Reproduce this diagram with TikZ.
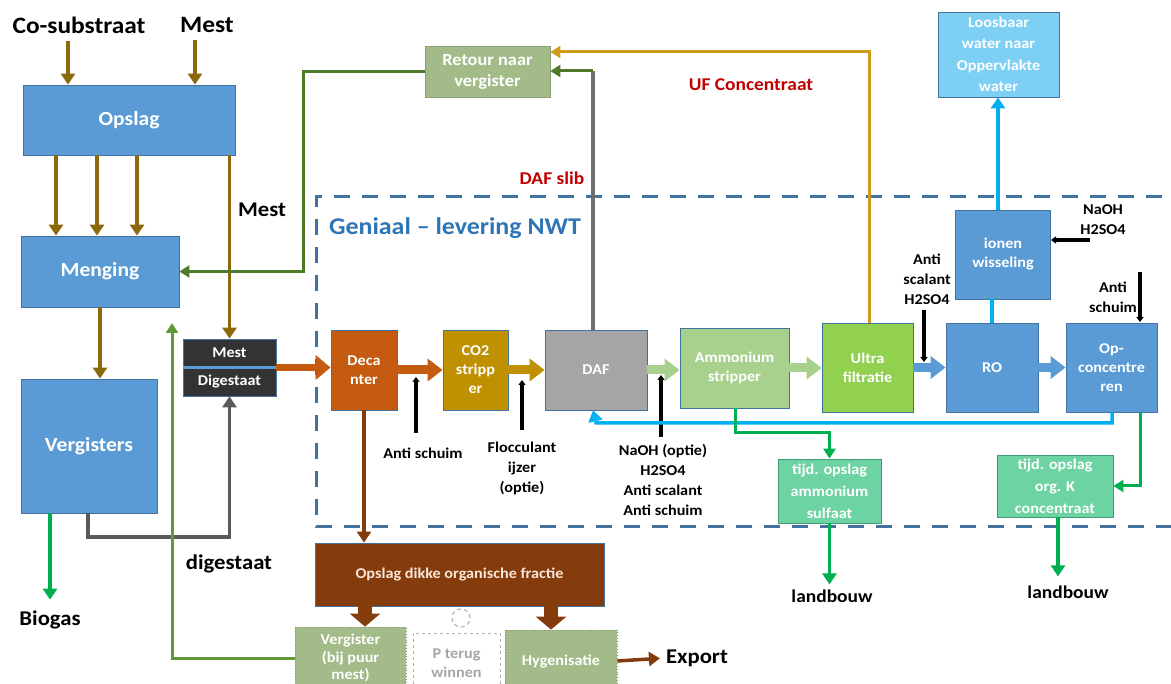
\documentclass[tikz,border=0pt]{standalone}
\usepackage{fontspec}
\setmainfont{Carlito}[FakeStretch=1.08]
\usetikzlibrary{arrows.meta}
\definecolor{cbrown}{HTML}{8C6A0C}
\definecolor{bluebox}{HTML}{5B9BD5}
\definecolor{blueedge}{HTML}{41719C}
\definecolor{dgreen}{HTML}{4E7A2A}
\definecolor{mgreen}{HTML}{5F9A3A}
\definecolor{dgray}{HTML}{5A5A5A}
\definecolor{mgray}{HTML}{6E6E6E}
\definecolor{goldl}{HTML}{CC9C1A}
\definecolor{decan}{HTML}{C55A11}
\definecolor{costrip}{HTML}{BF9000}
\definecolor{dafgray}{HTML}{A5A5A5}
\definecolor{ammgreen}{HTML}{A9D18E}
\definecolor{ufgreen}{HTML}{92D050}
\definecolor{lblue}{HTML}{00B0F0}
\definecolor{loosblue}{HTML}{7DD0F4}
\definecolor{mint}{HTML}{6DD3A2}
\definecolor{tealedge}{HTML}{3F9C78}
\definecolor{sage}{HTML}{A3BB88}
\definecolor{sagedark}{HTML}{7F9A5E}
\definecolor{dikbrown}{HTML}{843C0C}
\definecolor{cream}{HTML}{FBE5D6}
\definecolor{bgreen}{HTML}{00B050}
\definecolor{darkred}{HTML}{C00000}
\definecolor{geniaalc}{HTML}{2E75B6}
\definecolor{dashblue}{HTML}{41719C}
\definecolor{mestdark}{HTML}{333333}
\tikzset{
  box/.style={rectangle, draw=blueedge, line width=0.8pt, text=white, align=center, inner sep=1pt, font=\bfseries\fontsize{15}{19}\selectfont},
  bigbox/.style={box, fill=bluebox, font=\bfseries\fontsize{20}{24}\selectfont},
  lbl/.style={align=center, inner sep=1pt, text=black, font=\bfseries\fontsize{15}{20}\selectfont},
  biglbl/.style={inner sep=1pt, text=black, font=\bfseries\fontsize{21}{24}\selectfont},
  midlbl/.style={inner sep=1pt, text=black, font=\bfseries\fontsize{18}{22}\selectfont},
  toplbl/.style={inner sep=1pt, text=black, font=\bfseries\fontsize{23.5}{26}\selectfont},
  redlbl/.style={inner sep=1pt, text=darkred, font=\bfseries\fontsize{18}{20}\selectfont},
  flow/.style={line width=3.5pt, -{Triangle[length=11pt,width=14pt]}},
  thinflow/.style={line width=3pt, -{Triangle[length=10pt,width=12pt]}},
  fatarr/.style={line width=9pt, -{Triangle[length=15pt,width=22pt]}},
  hugearr/.style={line width=14pt, -{Triangle[length=13pt,width=30pt]}},
  chem/.style={draw=black, line width=3.5pt, -{Triangle[length=5pt,width=7pt]}},
}
\begin{document}
\begin{tikzpicture}[x=1pt,y=-1pt]
\useasboundingbox (0,0) rectangle (1171,684);
% NWT region
\draw[dashblue, line width=3pt, dash pattern=on 16pt off 12pt] (1190,197) -- (316,197) -- (316,527) -- (1190,527);

% nodes
\node[toplbl] (cosub) at (79,25) {Co-substraat};
\node[toplbl] (mesttop) at (207,25) {Mest};
\node[bigbox, minimum width=212pt, minimum height=70pt] (opslag) at (129,120) {Opslag};
\node[bigbox, minimum width=158pt, minimum height=71pt] (menging) at (100,271.5) {Menging};
\node[bigbox, minimum width=136pt, minimum height=134pt] (vergisters) at (89,446) {Vergisters};
\node[biglbl] (mestmid) at (262,210) {Mest};
\node[biglbl] (digestaat) at (229,564) {digestaat};
\node[biglbl] (biogas) at (50,620) {Biogas};
\node[box, fill=mestdark, minimum width=93pt, minimum height=57pt] (mestbox) at (229.5,367.5) {};
\node[box, draw=none] (mestt) at (229.5,353) {Mest};
\node[box, draw=none] (digt) at (229.5,382) {Digestaat};
\node[box, fill=sage, draw=sage!85!black, minimum width=125pt, minimum height=51pt, font=\bfseries\fontsize{17}{21}\selectfont] (retour) at (487.5,71.5) {Retour naar\\vergister};
\node[redlbl] (dafslib) at (552,178) {DAF slib};
\node[redlbl] (ufconc) at (751,85) {UF Concentraat};
\node[inner sep=1pt, text=geniaalc, font=\bfseries\fontsize{24}{26}\selectfont] (geniaal) at (455,228) {Geniaal – levering NWT};
\node[box, fill=decan, minimum width=66pt, minimum height=80pt] (decanter) at (364,370) {Deca\\nter};
\node[box, fill=costrip, minimum width=65pt, minimum height=80pt] (co2) at (475.5,370) {CO2\\stripp\\er};
\node[box, fill=dafgray, minimum width=102pt, minimum height=80pt] (daf) at (596,370) {DAF};
\node[box, fill=ammgreen, minimum width=109pt, minimum height=80pt] (amm) at (734.5,368) {Ammonium\\stripper};
\node[box, fill=ufgreen, minimum width=91pt, minimum height=89pt] (uf) at (867.5,367.5) {Ultra\\filtratie};
\node[box, fill=bluebox, minimum width=92pt, minimum height=89pt] (ro) at (992,367.5) {RO};
\node[box, fill=bluebox, minimum width=91pt, minimum height=89pt] (opc) at (1111.5,367.5) {Op-\\concentre\\ren};
\node[box, fill=bluebox, minimum width=95pt, minimum height=89pt] (ionen) at (1003,254.5) {ionen\\wisseling};
\node[box, fill=loosblue, minimum width=121pt, minimum height=85pt, font=\bfseries\fontsize{15}{21.5}\selectfont] (loos) at (998.5,54.5) {Loosbaar\\water naar\\Oppervlakte\\water};
\node[box, fill=mint, draw=tealedge, minimum width=103pt, minimum height=64pt, font=\bfseries\fontsize{15}{22}\selectfont] (tijda) at (829.5,491) {tijd. opslag\\ammonium\\sulfaat};
\node[box, fill=mint, draw=tealedge, minimum width=116pt, minimum height=62pt, font=\bfseries\fontsize{15}{22}\selectfont] (tijdb) at (1055,486) {tijd. opslag\\org. K\\concentraat};
\node[midlbl] (lba) at (832,596) {landbouw};
\node[midlbl] (lbb) at (1068,592) {landbouw};
\node[box, fill=dikbrown, text=cream, minimum width=289pt, minimum height=63pt] (dikke) at (459.5,574.5) {Opslag dikke organische fractie};
\node[box, fill=sage, draw=sagedark, dotted, minimum width=111pt, minimum height=62pt, font=\bfseries\fontsize{15}{17.5}\selectfont] (verg2) at (350.5,658) {Vergister\\(bij puur\\mest)};
\node[box, fill=white, draw=gray!60, dashed, text=gray!70, minimum width=87pt, minimum height=60pt] (pterug) at (456.5,663) {P terug\\winnen};
\node[box, fill=sage, draw=sagedark, dotted, minimum width=112pt, minimum height=62pt] (hyg) at (561,661) {Hygenisatie};
\node[biglbl] (export) at (697,658) {Export};

% chemical labels
\node[lbl] (antis1) at (423,453) {Anti schuim};
\node[lbl] (floc) at (522,468) {Flocculant\\ijzer\\(optie)};
\node[lbl] (naoh1) at (663,480) {NaOH (optie)\\H2SO4\\Anti scalant\\Anti schuim};
\node[lbl] (antisc) at (927,279) {Anti\\scalant\\H2SO4};
\node[lbl] (antis2) at (1113,297) {Anti\\schuim};
\node[lbl] (naoh2) at (1103,220) {NaOH\\H2SO4};

% coordinates for free ends
\coordinate (c1s) at (416,433); \coordinate (c1t) at (416,377);
\coordinate (c2s) at (522,430); \coordinate (c2t) at (522,380);
\coordinate (c3s) at (661,437); \coordinate (c3t) at (661,375);
\coordinate (c4s) at (924,310); \coordinate (c4t) at (924,362);
\coordinate (c5s) at (1140,272); \coordinate (c5t) at (1140,322);
\coordinate (c6s) at (1090,240); \coordinate (c6t) at (1051,240);
\coordinate (backtip) at (172,323);

% left part
\draw[flow, cbrown, shorten <=6pt] (cosub.south -| 68,0) -- (opslag.north -| 68,0);
\draw[flow, cbrown, shorten <=6pt] (mesttop.south -| 195,0) -- (opslag.north -| 195,0);
\foreach \xx in {56,97,137} \draw[flow, cbrown] (opslag.south -| \xx,0) -- (menging.north -| \xx,0);
\draw[flow, cbrown] (opslag.south -| mestbox.north) -- (mestbox.north);
\draw[flow, cbrown] (menging.south) -- (menging.south |- vergisters.north);
\draw[thinflow, dgreen] (retour.west) -- (retour.west -| 303,0) |- (menging.east);
\draw[flow, dgray] (vergisters.south -| 88,0) |- (mestbox.south |- 0,537) -- (mestbox.south);
\draw[thinflow, mgreen] (verg2.west) -- (verg2.west -| 172,0) -- (backtip);
\draw[flow, bgreen, shorten >=10pt] (vergisters.south -| 50,0) -- (biogas.north -| 50,0);
\draw[bluebox, line width=2.5pt] (mestbox.west) -- (mestbox.east);
\draw[decan, line width=7pt, -{Triangle[length=15pt,width=24pt]}] (mestbox.east) -- (mestbox.east -| decanter.west);

% process line
\draw[fatarr, decan] (decanter.east) -- (co2.west);
\draw[fatarr, costrip] (co2.east) -- (daf.west);
\draw[fatarr, ammgreen] (daf.east) -- (daf.east -| amm.west);
\draw[fatarr, ammgreen] (amm.east) -- (amm.east -| uf.west);
\draw[fatarr, bluebox] (uf.east) -- (ro.west);
\draw[fatarr, bluebox] (ro.east) -- (opc.west);

% chemicals
\draw[chem] (c1s) -- (c1t);
\draw[chem] (c2s) -- (c2t);
\draw[chem] (c3s) -- (c3t);
\draw[chem] (c4s) -- (c4t);
\draw[chem] (c5s) -- (c5t);
\draw[chem] (c6s) -- (c6t);

% returns
\draw[thinflow, goldl] (uf.north -| 869,0) |- (retour.east |- 0,52);
\draw[mgray, line width=4pt] (daf.north -| 593,0) -- (593,71) coordinate (dafc);
\draw[thinflow, dgreen] (dafc) -- (retour.east |- dafc);

% water
\draw[lblue, line width=4pt] (ro.north -| 992,0) -- (ionen.south -| 992,0);
\draw[flow, lblue] (ionen.north -| 998,0) -- (loos.south -| 998,0);
\draw[flow, lblue] (opc.south -| 1112,0) |- (daf.south |- 0,423) -- (daf.south -| 593,0);

% products
\draw[thinflow, bgreen] (amm.south -| 735,0) |- (tijda.north |- 0,433) -- (tijda.north);
\draw[flow, bgreen, shorten >=4pt] (tijda.south) -- (tijda.south |- lba.north);
\draw[thinflow, bgreen] (opc.south -| 1140,0) |- (tijdb.east);
\draw[flow, bgreen, shorten >=8pt] (tijdb.south -| 1058,0) -- (lbb.north -| 1058,0);

% solids
\draw[flow, dikbrown] (decanter.south) -- (decanter.south |- dikke.north);
\draw[hugearr, dikbrown] (dikke.south -| 365,0) -- (verg2.north -| 365,0);
\draw[hugearr, dikbrown] (dikke.south -| 551,0) -- (hyg.north -| 551,0);
\draw[flow, dikbrown, shorten >=5pt] (hyg.east) -- (export.west);
\draw[gray!55, line width=1.3pt, dash pattern=on 4pt off 3pt] (461,618) circle[radius=9pt];
\end{tikzpicture}
\end{document}
